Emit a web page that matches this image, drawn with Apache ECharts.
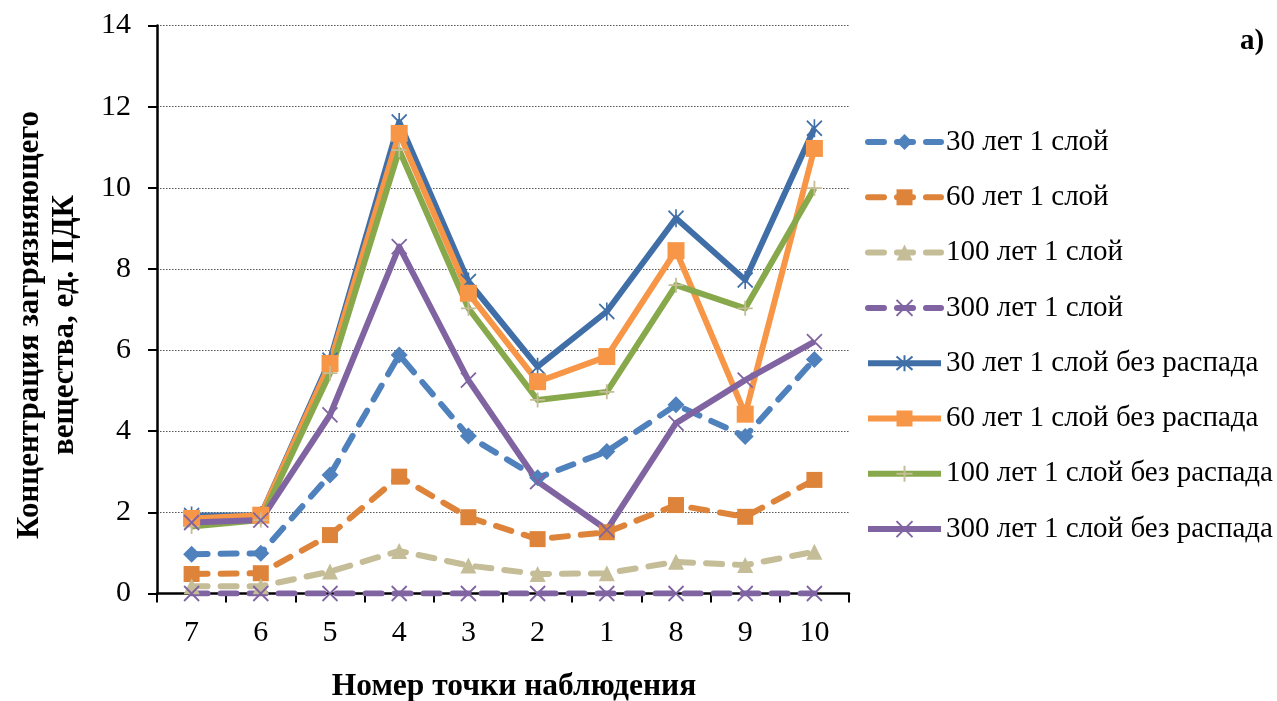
<!DOCTYPE html>
<html>
<head>
<meta charset="utf-8">
<script src="https://cdn.jsdelivr.net/npm/echarts@6/dist/echarts.min.js"></script>
<style>
  html, body { margin: 0; padding: 0; background: #fff; }
  #chart { width: 1277px; height: 701px; }
</style>
</head>
<body>
<div id="chart"></div>
<script>
// Observation points, in the order they lie along the profile
const categories = ['7', '6', '5', '4', '3', '2', '1', '8', '9', '10'];

// Concentrations, MPC units
const decay30  = [0.97, 0.99, 2.92, 5.88, 3.88, 2.85, 3.50, 4.65, 3.87, 5.77];
const decay60  = [0.48, 0.50, 1.44, 2.88, 1.88, 1.34, 1.51, 2.18, 1.89, 2.80];
const decay100 = [0.18, 0.18, 0.54, 1.05, 0.69, 0.48, 0.50, 0.78, 0.70, 1.03];
const decay300 = [0, 0, 0, 0, 0, 0, 0, 0, 0, 0];
const noDecay30  = [1.92, 1.93, 5.75, 11.62, 7.69, 5.59, 6.95, 9.25, 7.73, 11.47];
const noDecay60  = [1.85, 1.93, 5.67, 11.34, 7.40, 5.22, 5.84, 8.45, 4.42, 10.97];
const noDecay100 = [1.65, 1.81, 5.43, 10.93, 7.03, 4.77, 4.97, 7.60, 7.03, 9.99];
const noDecay300 = [1.75, 1.81, 4.40, 8.55, 5.26, 2.76, 1.57, 4.20, 5.26, 6.21];

const seriesNames = [
  '30 лет 1 слой', '60 лет 1 слой', '100 лет 1 слой', '300 лет 1 слой',
  '30 лет 1 слой без распада', '60 лет 1 слой без распада',
  '100 лет 1 слой без распада', '300 лет 1 слой без распада'
];

const FONT = "'Times New Roman', 'Liberation Serif', serif";
const LINE_W = 6;
const CROSS = 'path://M0,0L10,10M10,0L0,10';
const STAR = 'path://M0,1L10,11M10,1L0,11M5,0L5,12';
const PLUS = 'path://M5,0L5,10M0,5L10,5';

function makeSeries(name, data, opt) {
  const dashed = opt.dashed;
  return {
    name: name,
    type: 'line',
    data: data,
    symbol: opt.symbol,
    symbolSize: opt.size,
    showAllSymbol: true,
    lineStyle: {
      color: opt.line,
      width: LINE_W,
      type: dashed ? [16, 13] : 'solid',
      cap: dashed ? 'round' : 'butt',
      join: 'round'
    },
    itemStyle: {
      color: opt.mark,
      borderColor: opt.mark,
      borderWidth: opt.stroke ? 1.8 : 0
    },
    emphasis: { disabled: true },
    animation: false
  };
}

const series = [
  makeSeries(seriesNames[0], decay30,  { dashed: true, symbol: 'diamond',  size: 17, line: '#4F81BD', mark: '#4F81BD' }),
  makeSeries(seriesNames[1], decay60,  { dashed: true, symbol: 'rect',     size: 16, line: '#DD843A', mark: '#DD843A' }),
  makeSeries(seriesNames[2], decay100, { dashed: true, symbol: 'triangle', size: 16, line: '#C4BD97', mark: '#C4BD97' }),
  makeSeries(seriesNames[3], decay300, { dashed: true, symbol: CROSS, size: 15, line: '#8064A2', mark: '#8064A2', stroke: true }),
  makeSeries(seriesNames[4], noDecay30,  { symbol: STAR, size: [15, 18], line: '#406FA8', mark: '#406FA8', stroke: true }),
  makeSeries(seriesNames[5], noDecay60,  { symbol: 'rect', size: 17, line: '#F79646', mark: '#F79646' }),
  makeSeries(seriesNames[6], noDecay100, { symbol: PLUS, size: 15, line: '#88A94B', mark: '#C4BD97', stroke: true }),
  makeSeries(seriesNames[7], noDecay300, { symbol: CROSS, size: 15, line: '#8064A2', mark: '#8064A2', stroke: true })
];

const chart = echarts.init(document.getElementById('chart'), null, { renderer: 'canvas' });
chart.setOption({
  backgroundColor: '#ffffff',
  animation: false,
  textStyle: { fontFamily: FONT },
  grid: { left: 157, right: 428, top: 25.5, bottom: 107.5, containLabel: false },
  xAxis: {
    type: 'category',
    data: categories,
    boundaryGap: true,
    axisLine: { lineStyle: { color: '#000', width: 2.5 } },
    axisTick: { show: true, length: 9, lineStyle: { color: '#000', width: 2 } },
    axisLabel: { color: '#000', fontSize: 30, fontFamily: FONT, margin: 25 },
    splitLine: { show: false }
  },
  yAxis: {
    type: 'value',
    min: 0, max: 14, interval: 2,
    axisLine: { show: true, lineStyle: { color: '#000', width: 2.5 } },
    axisTick: { show: true, length: 9, lineStyle: { color: '#000', width: 2 } },
    axisLabel: { color: '#000', fontSize: 30, fontFamily: FONT, margin: 26 },
    splitLine: { show: true, lineStyle: { color: '#555', width: 1, type: [1.5, 1.5] } }
  },
  legend: {
    orient: 'vertical',
    left: 860,
    top: 122,
    itemWidth: 73,
    itemHeight: 20,
    itemGap: 25.3,
    selectedMode: false,
    lineStyle: { width: LINE_W, cap: 'inherit', type: 'inherit' },
    textStyle: { color: '#000', fontSize: 29, fontFamily: FONT, lineHeight: 30 },
    data: seriesNames
  },
  graphic: [
    {
      type: 'text',
      x: 47, y: 325,
      rotation: Math.PI / 2,
      style: {
        text: 'Концентрация загрязняющего\nвещества, ед. ПДК',
        font: 'bold 31px ' + FONT,
        fill: '#000',
        align: 'center',
        verticalAlign: 'middle',
        lineHeight: 35
      }
    },
    {
      type: 'text',
      x: 514, y: 687,
      style: {
        text: 'Номер точки наблюдения',
        font: 'bold 31.5px ' + FONT,
        fill: '#000',
        align: 'center',
        verticalAlign: 'middle'
      }
    },
    {
      type: 'text',
      x: 1252, y: 42,
      style: {
        text: 'а)',
        font: 'bold 29px ' + FONT,
        fill: '#000',
        align: 'center',
        verticalAlign: 'middle'
      }
    }
  ],
  series: series
});
</script>
</body>
</html>
